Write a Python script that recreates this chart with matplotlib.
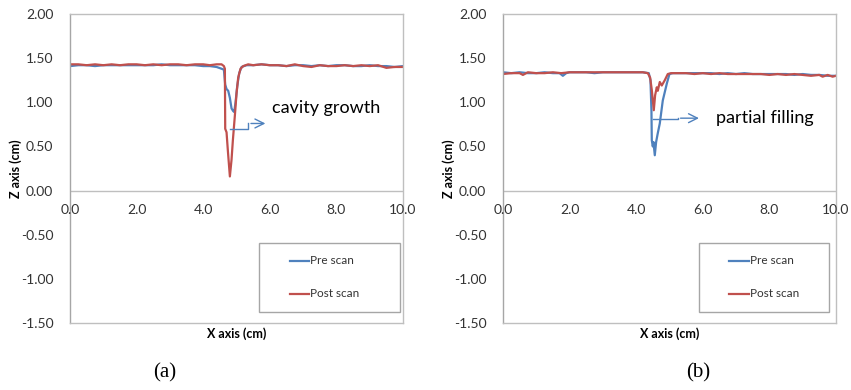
import numpy as np
import matplotlib.pyplot as plt
from matplotlib.patches import Rectangle

# (a) cavity growth
a_pre_x = [0.0, 0.25, 0.5, 0.75, 1.0, 1.25, 1.5, 1.75, 2.0, 2.25, 2.5, 2.75, 3.0, 3.25, 3.5, 3.75, 4.0,
           4.2, 4.4, 4.55, 4.62, 4.66, 4.7, 4.75, 4.8, 4.85, 4.9, 4.93, 4.97, 5.02, 5.08, 5.15, 5.3,
           5.5, 5.75, 6.0, 6.25, 6.5, 6.75, 7.0, 7.25, 7.5, 7.75, 8.0, 8.25, 8.5, 8.75, 9.0, 9.25, 9.5, 9.75, 10.0]
a_pre_z = [1.41, 1.42, 1.42, 1.41, 1.42, 1.42, 1.42, 1.42, 1.42, 1.42, 1.42, 1.43, 1.42, 1.42, 1.42, 1.42, 1.41,
           1.41, 1.40, 1.38, 1.37, 1.20, 1.15, 1.13, 1.05, 0.93, 0.90, 0.89, 1.00, 1.18, 1.33, 1.40, 1.42,
           1.42, 1.43, 1.42, 1.42, 1.41, 1.42, 1.42, 1.41, 1.42, 1.41, 1.42, 1.42, 1.41, 1.41, 1.42, 1.41, 1.41, 1.40, 1.41]
a_post_x = [0.0, 0.25, 0.5, 0.75, 1.0, 1.25, 1.5, 1.75, 2.0, 2.25, 2.5, 2.75, 3.0, 3.25, 3.5, 3.75, 4.0,
            4.2, 4.4, 4.55, 4.62, 4.65, 4.66, 4.70, 4.74, 4.80, 4.85, 4.89, 4.95, 5.0, 5.05, 5.12, 5.2, 5.35,
            5.5, 5.75, 6.0, 6.25, 6.5, 6.75, 7.0, 7.25, 7.5, 7.75, 8.0, 8.25, 8.5, 8.75, 9.0, 9.25, 9.5, 9.75, 10.0]
a_post_z = [1.43, 1.43, 1.42, 1.43, 1.42, 1.43, 1.42, 1.43, 1.43, 1.42, 1.43, 1.42, 1.43, 1.43, 1.42, 1.43, 1.43,
            1.42, 1.43, 1.43, 1.41, 1.38, 0.70, 0.66, 0.45, 0.16, 0.35, 0.57, 0.85, 1.10, 1.28, 1.38, 1.41, 1.43,
            1.42, 1.43, 1.42, 1.42, 1.41, 1.43, 1.41, 1.40, 1.42, 1.41, 1.41, 1.42, 1.41, 1.42, 1.41, 1.42, 1.39, 1.40, 1.40]

# (b) partial filling
b_pre_x = [0.0, 0.25, 0.5, 0.75, 1.0, 1.25, 1.5, 1.7, 1.8, 1.9, 2.0, 2.25, 2.5, 2.75, 3.0, 3.25, 3.5, 3.75, 4.0,
           4.2, 4.38, 4.43, 4.46, 4.47, 4.50, 4.52, 4.56, 4.60, 4.65, 4.71, 4.8, 4.92, 5.0, 5.1,
           5.5, 5.75, 6.0, 6.25, 6.5, 6.75, 7.0, 7.25, 7.5, 7.75, 8.0, 8.25, 8.5, 8.75, 9.0, 9.25, 9.5, 9.75, 10.0]
b_pre_z = [1.34, 1.33, 1.34, 1.33, 1.33, 1.34, 1.33, 1.33, 1.30, 1.33, 1.34, 1.34, 1.34, 1.33, 1.34, 1.34, 1.34, 1.34, 1.34,
           1.34, 1.33, 1.25, 0.90, 0.57, 0.50, 0.55, 0.40, 0.55, 0.65, 0.76, 1.02, 1.21, 1.32, 1.33,
           1.33, 1.33, 1.33, 1.33, 1.32, 1.33, 1.32, 1.33, 1.32, 1.32, 1.32, 1.32, 1.32, 1.31, 1.32, 1.31, 1.31, 1.30, 1.30]
b_post_x = [0.0, 0.25, 0.5, 0.6, 0.75, 1.0, 1.25, 1.5, 1.75, 2.0, 2.25, 2.5, 2.75, 3.0, 3.25, 3.5, 3.75, 4.0,
            4.2, 4.35, 4.42, 4.47, 4.53, 4.57, 4.62, 4.65, 4.71, 4.77, 4.86, 4.95, 5.05,
            5.5, 5.75, 6.0, 6.25, 6.5, 6.75, 7.0, 7.25, 7.5, 7.75, 8.0, 8.25, 8.5, 8.75, 9.0, 9.25, 9.5, 9.6, 9.75, 9.9, 10.0]
b_post_z = [1.32, 1.33, 1.33, 1.31, 1.34, 1.33, 1.33, 1.34, 1.33, 1.34, 1.34, 1.34, 1.34, 1.34, 1.34, 1.34, 1.34, 1.34,
            1.34, 1.33, 1.28, 1.14, 0.91, 1.08, 1.17, 1.13, 1.23, 1.19, 1.25, 1.32, 1.33,
            1.33, 1.32, 1.33, 1.32, 1.33, 1.32, 1.32, 1.32, 1.32, 1.32, 1.31, 1.32, 1.31, 1.32, 1.31, 1.30, 1.31, 1.29, 1.31, 1.29, 1.30]

x_ticks = [0.0, 2.0, 4.0, 6.0, 8.0, 10.0]
z_ticks = [-1.5, -1.0, -0.5, 0.0, 0.5, 1.0, 1.5, 2.0]
series_names = ['Pre scan', 'Post scan']

blue = '#4F81BD'
red = '#C0504D'
plt.rcParams['font.family'] = ['Lato', 'DejaVu Sans']

fig = plt.figure(figsize=(8.51, 3.90), dpi=100)
ax1 = fig.add_axes([0.0823, 0.1718, 0.3913, 0.7923])
ax2 = fig.add_axes([0.591, 0.1718, 0.3913, 0.7923])

# legend box (axes fraction) and where the handle starts, per panel
legend_boxes = {ax1: (0.568, 0.423, 0.660), ax2: (0.589, 0.390, 0.680)}

panels = [(ax1, a_pre_x, a_pre_z, a_post_x, a_post_z), (ax2, b_pre_x, b_pre_z, b_post_x, b_post_z)]
for ax, px, pz, qx, qz in panels:
    ax.plot(px, pz, color=blue, lw=1.6)
    ax.plot(qx, qz, color=red, lw=1.6)
    ax.set_xlim(0, 10)
    ax.set_ylim(-1.5, 2.0)
    ax.set_yticks(z_ticks)
    ax.set_yticklabels(['%.2f' % v for v in z_ticks], fontsize=10, color='#333333')
    ax.set_xticks([])
    for v in x_ticks:
        ax.text(v, -0.15, '%.1f' % v, ha='center', va='top', fontsize=10, color='#333333')
    ax.tick_params(axis='y', length=0, pad=12)
    for s in ax.spines.values():
        s.set_color('#BFBFBF')
        s.set_linewidth(1)
    ax.spines['left'].set_color('#A6A6A6')
    ax.axhline(0, color='#BFBFBF', lw=1)
    ax.set_ylabel('Z axis (cm)', fontsize=9, fontweight='bold', labelpad=-1)
    ax.set_xlabel('X axis (cm)', fontsize=9, fontweight='bold', labelpad=3)

    # legend drawn by hand so the box matches the reference size
    bx, bw, hx = legend_boxes[ax]
    ax.add_patch(Rectangle((bx, 0.036), bw, 0.223, transform=ax.transAxes, fill=False,
                           edgecolor='#A6A6A6', lw=1, zorder=5))
    for name, col, ly in zip(series_names, [blue, red], [0.201, 0.094]):
        ax.plot([hx, hx + 0.058], [ly, ly], color=col, lw=1.6, transform=ax.transAxes, zorder=6)
        ax.text(hx + 0.062, ly, name, transform=ax.transAxes, fontsize=8.5, color='#333333',
                va='center', ha='left', zorder=6)

# elbow arrows
ax1.plot([4.8, 5.35, 5.35], [0.70, 0.70, 0.76], color=blue, lw=1)
ax1.annotate('', xy=(5.95, 0.76), xytext=(5.35, 0.76),
             arrowprops=dict(arrowstyle='->', color=blue, lw=1, mutation_scale=16))
ax1.text(6.05, 0.93, 'cavity growth', fontsize=13, va='center', ha='left')

ax2.plot([4.5, 5.25, 5.25], [0.81, 0.81, 0.82], color=blue, lw=1)
ax2.annotate('', xy=(5.97, 0.82), xytext=(5.25, 0.82),
             arrowprops=dict(arrowstyle='->', color=blue, lw=1, mutation_scale=16))
ax2.text(6.4, 0.82, 'partial filling', fontsize=13, va='center', ha='left')

fig.text(165 / 851, 1 - 373 / 390, '(a)', family='Liberation Serif', fontsize=15, ha='center', va='center')
fig.text(698 / 851, 1 - 373 / 390, '(b)', family='Liberation Serif', fontsize=15, ha='center', va='center')

fig.savefig('out.png', dpi=100)
